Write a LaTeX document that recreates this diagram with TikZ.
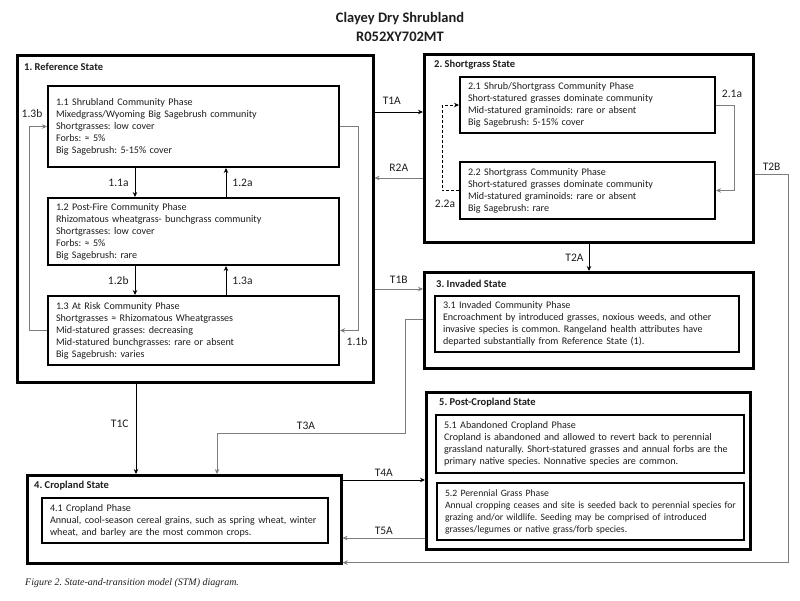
\documentclass[tikz,border=0pt]{standalone}
\usepackage{fontspec}
\setmainfont{Carlito}
\newfontfamily\capfont{Liberation Serif}
\usetikzlibrary{arrows.meta,calc}
\definecolor{lgray}{RGB}{125,125,125}
\definecolor{txt}{RGB}{30,30,30}
\newcommand\phf{\fontsize{10.1}{12}\selectfont\spaceskip=0.17em plus 0.05em minus 0.03em\relax}
\newcommand\phfs{\fontsize{9.7}{12}\selectfont\spaceskip=0.15em plus 0.05em minus 0.03em\relax}
\frenchspacing
\begin{document}
\begin{tikzpicture}[x=1pt,y=-1pt,
  sbox/.style 2 args={draw=black, line width=2.6pt, anchor=north west, inner sep=0pt, minimum width=#1, minimum height=#2},
  phase/.style 2 args={draw=black, line width=2pt, anchor=north west, inner xsep=8pt, inner ysep=0pt, text width=#1, minimum height=#2, align=left, font=\phf, text=txt},
  stitle/.style={anchor=west, inner sep=0pt, font=\fontsize{10.5}{12}\selectfont\bfseries, text=txt},
  tr/.style={draw=black, line width=0.9pt, -{Stealth[length=5pt,width=4.5pt]}},
  gtr/.style={tr, draw=lgray},
  lbl/.style={font=\fontsize{11.5}{13}\selectfont, inner sep=1pt, text=txt}]
\useasboundingbox (0,0) rectangle (800,600);
\fill[white] (0,0) rectangle (800,600);

% title
\node[font=\fontsize{14.5}{19}\selectfont\bfseries, align=center, text=txt] (title) at (400,27) {Clayey Dry Shrubland\\R052XY702MT};

% 1. Reference state
\node[sbox={356}{327}] (ref) at (16,54) {};
\node[stitle] (reft) at ([xshift=8pt,yshift=-13pt]ref.north west) {1. Reference State};
\node[phase={275}{81}] (p11) at (47,85) {\mbox{1.1 Shrubland Community Phase}\\\mbox{Mixedgrass/Wyoming Big Sagebrush community}\\\mbox{Shortgrasses: low cover}\\\mbox{Forbs: ≈ 5\%}\\\mbox{Big Sagebrush: 5-15\% cover}};
\node[phase={275}{67}] (p12) at (47,197) {\mbox{1.2 Post-Fire Community Phase}\\\mbox{Rhizomatous wheatgrass- bunchgrass community}\\\mbox{Shortgrasses: low cover}\\\mbox{Forbs: ≈ 5\%}\\\mbox{Big Sagebrush: rare}};
\node[phase={275}{69}] (p13) at (47,295) {\mbox{1.3 At Risk Community Phase}\\\mbox{Shortgrasses ≈ Rhizomatous Wheatgrasses}\\\mbox{Mid-statured grasses: decreasing}\\\mbox{Mid-statured bunchgrasses: rare or absent}\\\mbox{Big Sagebrush: varies}};

% 2. Shortgrass state
\node[sbox={329}{188}] (sg) at (423,53) {};
\node[stitle] (sgt) at ([xshift=11pt,yshift=-12pt]sg.north west) {2. Shortgrass State};
\node[phase={239}{56}] (p21) at (459,76) {\mbox{2.1 Shrub/Shortgrass Community Phase}\\\mbox{Short-statured grasses dominate community}\\\mbox{Mid-statured graminoids: rare or absent}\\\mbox{Big Sagebrush: 5-15\% cover}};
\node[phase={239}{57}] (p22) at (459,161) {\mbox{2.2 Shortgrass Community Phase}\\\mbox{Short-statured grasses dominate community}\\\mbox{Mid-statured graminoids: rare or absent}\\\mbox{Big Sagebrush: rare}};

% 3. Invaded state
\node[sbox={329}{96}] (inv) at (423,271) {};
\node[stitle] (invt) at ([xshift=13pt,yshift=-13pt]inv.north west) {3. Invaded State};
\node[phase={288}{56}] (p31) at (434,295) {\mbox{3.1 Invaded Community Phase}\\\mbox{Encroachment by introduced grasses, noxious weeds, and other}\\\mbox{invasive species is common. Rangeland health attributes have}\\\mbox{departed substantially from Reference State (1).}};

% 4. Cropland state
\node[sbox={314}{88}] (crop) at (26,474) {};
\node[stitle] (cropt) at ([xshift=8pt,yshift=-12pt]crop.north west) {4. Cropland State};
\node[phase={270}{45}] (p41) at (41,497) {\mbox{4.1 Cropland Phase}\\\mbox{Annual, cool-season cereal grains, such as spring wheat, winter}\\\mbox{wheat, and barley are the most common crops.}};

% 5. Post-Cropland state
\node[sbox={324}{157}] (pc) at (425,391) {};
\node[stitle] (pct) at ([xshift=14pt,yshift=-12pt]pc.north west) {5. Post-Cropland State};
\node[phase={292}{58}] (p51) at (435,414) {\mbox{5.1 Abandoned Cropland Phase}\\\mbox{Cropland is abandoned and allowed to revert back to perennial}\\\mbox{grassland naturally. Short-statured grasses and annual forbs are the}\\\mbox{primary native species. Nonnative species are common.}};
\node[phase={291}{57}, font=\phfs] (p52) at (436,482) {\mbox{5.2 Perennial Grass Phase}\\\mbox{Annual cropping ceases and site is seeded back to perennial species for}\\\mbox{grazing and/or wildlife. Seeding may be comprised of introduced}\\\mbox{grasses/legumes or native grass/forb species.}};

% community pathways, reference state
\draw[tr] ([xshift=88pt]p11.south west) -- node[lbl,left=5pt]{1.1a} ([xshift=88pt]p12.north west);
\draw[tr] ([xshift=179pt]p12.north west) -- node[lbl,right=5pt]{1.2a} ([xshift=179pt]p11.south west);
\draw[tr] ([xshift=88pt]p12.south west) -- node[lbl,left=5pt]{1.2b} ([xshift=88pt]p13.north west);
\draw[tr] ([xshift=179pt]p13.north west) -- node[lbl,right=5pt]{1.3a} ([xshift=179pt]p12.south west);
\draw[gtr] (p13.west) -- ++(-18,0) |- (p11.west);
\node[lbl] (l13b) at ([xshift=-15pt,yshift=13pt]p11.west) {1.3b};
\draw[gtr] (p11.east) -- ++(18,0) |- (p13.east);
\node[lbl] (l11b) at ([xshift=17pt,yshift=-11pt]p13.east) {1.1b};

% community pathways, shortgrass state
\draw[gtr] (p21.east) -- ++(18,0) |- (p22.east);
\node[lbl] (l21a) at ([xshift=16pt,yshift=11pt]p21.east) {2.1a};
\draw[tr,dash pattern=on 3pt off 2pt] (p22.west) -- ++(-17,0) |- (p21.west);
\node[lbl] (l22a) at ([xshift=-14pt,yshift=-13pt]p22.west) {2.2a};

% transitions
\draw[tr] ([yshift=-58pt]ref.north east) -- node[lbl,above=6pt,xshift=-7pt]{T1A} ([yshift=-59pt]sg.north west);
\draw[gtr] ([yshift=-125pt]sg.north west) -- node[lbl,above=5pt]{R2A} ([yshift=-124pt]ref.north east);
\draw[gtr] ([yshift=-235pt]ref.north east) -- node[lbl,above=4pt]{T1B} ([yshift=-18pt]inv.north west);
\draw[tr] ([xshift=166pt]sg.south west) -- node[lbl,left=4pt]{T2A} ([xshift=166pt]inv.north west);
\draw[gtr] ([yshift=-121pt]sg.north east) -- node[lbl,above=2pt]{T2B} ++(34,0) |- ([yshift=2pt]crop.south east);
\draw[gtr] ([yshift=-48pt]inv.north west) -- ++(-18,0) -- ++(0,114) -| node[lbl,above=1.5pt,pos=0.25,xshift=-5pt]{T3A} ([xshift=191pt]crop.north west);
\draw[tr] ([xshift=120pt]ref.south west) -- node[lbl,left=6pt,yshift=5pt]{T1C} ([xshift=110pt]crop.north west);
\draw[tr] ([yshift=-6pt]crop.north east) -- node[lbl,above=2.5pt]{T4A} ([yshift=-89pt]pc.north west);
\draw[gtr] ([yshift=-147pt]pc.north west) -- node[lbl,above=2pt]{T5A} ([yshift=-64pt]crop.north east);

% caption
\node[anchor=west, inner sep=0pt, font=\capfont\itshape\fontsize{10}{12}\selectfont, text=txt] (cap) at (25,583) {Figure 2. State-and-transition model (STM) diagram.};
\end{tikzpicture}
\end{document}
